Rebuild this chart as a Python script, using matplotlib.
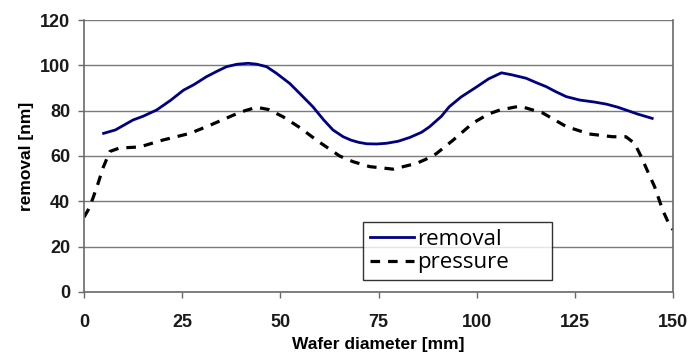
import numpy as np
import matplotlib.pyplot as plt

plt.rcParams['font.family'] = ['Liberation Sans', 'DejaVu Sans']

removal_x = [5, 8, 12.5, 15, 18.5, 22, 25.3, 28, 31.2, 34, 36.3, 39, 41.8, 44, 46.5, 49, 52.4, 55,
             58.3, 61, 63.4, 66, 68, 70, 72, 74.5, 77, 80, 83, 86, 88, 91, 93, 96, 100, 103,
             106.3, 109, 112.6, 115, 117.7, 120, 122.8, 126.2, 130, 133, 136, 138, 141, 144.7]
removal_y = [70, 71.5, 75.9, 77.5, 80.3, 84.5, 89, 91.5, 95, 97.5, 99.4, 100.5, 100.9, 100.5, 99.4, 96.5, 92, 87.5,
             81.7, 76, 71.5, 68.5, 67, 66, 65.4, 65.3, 65.6, 66.5, 68.2, 70.5, 72.9, 77.5, 81.7, 86, 90.5, 94,
             96.7, 95.8, 94.3, 92.5, 90.6, 88.5, 86.2, 84.7, 83.8, 82.9, 81.5, 80.3, 78.5, 76.6]

pressure_x = [0, 1, 2.2, 3.6, 4.9, 6.6, 9, 14.2, 20, 27, 32, 38, 41, 44, 47, 50.7, 55, 59.2, 65.1,
              68.5, 72.8, 78.7, 84.6, 87, 89.7, 94, 99, 103, 105.9, 111, 116.8, 122.8, 128.7, 134.6,
              138, 140.2, 141.9, 143.6, 145.3, 147.4, 149.1, 150]
pressure_y = [33, 36, 41, 48, 55, 62, 63.5, 64, 67, 70, 73.5, 78, 80, 81.5, 80.5, 77.3, 72.5, 67, 60,
              57.5, 55.3, 54.2, 56.7, 58.5, 61, 67, 74.5, 78.5, 80.3, 82, 79, 73, 69.7, 68.5,
              68.5, 65.6, 59.7, 53, 46.5, 36, 29.5, 27.5]

fig = plt.figure(figsize=(6.89, 3.56), dpi=100)
ax = fig.add_axes([0.1219, 0.1798, 0.8549, 0.764])

ax.plot(removal_x, removal_y, color='#000080', lw=2.0, label='removal')
ax.plot(pressure_x, pressure_y, color='black', lw=2.3, ls=(0, (3, 2.5)), label='pressure')

ax.set_xlim(0, 150)
ax.set_ylim(0, 120)
ax.set_xticks(np.arange(0, 151, 25))
ax.set_yticks(np.arange(0, 121, 20))
ax.yaxis.grid(True, color='#7a7a7a', lw=1.0)
ax.set_axisbelow(True)

ax.spines['top'].set_visible(False)
for s in ['left', 'bottom', 'right']:
    ax.spines[s].set_color('#6a6a6a')
    ax.spines[s].set_linewidth(1.2)

ax.tick_params(axis='both', direction='out', length=4, color='#6a6a6a', width=1.0)
ax.tick_params(axis='x', pad=12)
ax.tick_params(axis='y', pad=6)
for lab in ax.get_xticklabels() + ax.get_yticklabels():
    lab.set_fontsize(13)
    lab.set_fontweight('bold')
    lab.set_color('#1a1a1a')

ax.set_xlabel('Wafer diameter [mm]', fontsize=12.5, fontweight='bold', labelpad=4)
ax.set_ylabel('removal [nm]', fontsize=12.5, fontweight='bold', labelpad=4)

leg = ax.legend(loc='lower left', bbox_to_anchor=(0.4737, 0.0441, 0.321, 0.228), mode='expand',
                fontsize=16, frameon=True, fancybox=False, edgecolor='black',
                handlelength=2.0, handletextpad=0.15, borderpad=0.3, labelspacing=0.1,
                borderaxespad=0)
leg.get_frame().set_linewidth(1.0)
for t in leg.get_texts():
    t.set_family(['Open Sans', 'DejaVu Sans'])

fig.savefig('out.png', dpi=100)
